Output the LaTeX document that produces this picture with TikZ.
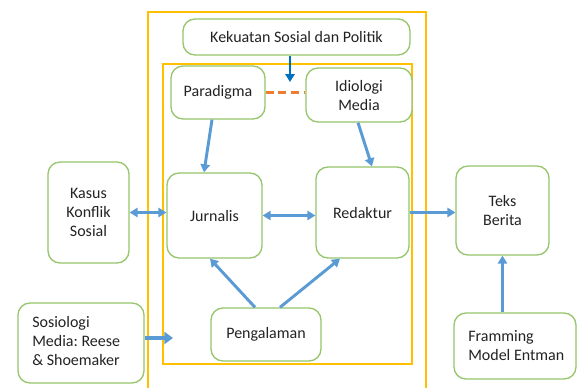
\documentclass[tikz,border=0pt]{standalone}
\usepackage{fontspec}
\setmainfont{Carlito}
\frenchspacing
\usetikzlibrary{arrows.meta,calc}
\definecolor{boxgreen}{RGB}{150,198,108}
\definecolor{arrblue}{RGB}{91,155,213}
\definecolor{darkblue}{RGB}{0,112,192}
\definecolor{dashorange}{RGB}{237,125,49}
\definecolor{frameyellow}{RGB}{255,192,0}
\definecolor{txt}{RGB}{35,35,35}
\begin{document}
\begin{tikzpicture}[x=0.75pt,y=-0.75pt,
  box/.style={draw=boxgreen,line width=1pt,rounded corners=9pt,inner sep=0pt,align=center,
    text=txt,font=\fontsize{12pt}{14.25pt}\selectfont,fill=white},
  lbl/.style={inner sep=0pt,align=left,text=txt,font=\fontsize{12pt}{14.25pt}\selectfont},
  frame/.style={draw=frameyellow,line width=0.9pt},
  arr/.style={draw=arrblue,line width=2.2pt,-{Triangle[length=6pt,width=7pt]}},
  darr/.style={draw=arrblue,line width=2.2pt,{Triangle[length=6pt,width=7pt]}-{Triangle[length=6pt,width=7pt]}},
  thickarr/.style={draw=arrblue,line width=3.6pt,-{Triangle[length=6.5pt,width=9pt]}},
  kekarr/.style={draw=darkblue,line width=2pt,-{Triangle[length=6pt,width=7pt]}},
  dashline/.style={draw=dashorange,line width=2.2pt,dash pattern=on 6pt off 3.5pt}]
\useasboundingbox (0,0) rectangle (579,387);
\fill[white] (0,0) rectangle (579,387);
% frames
\draw[frame] (148,395) -- (148,12) -- (426,12) -- (426,395);
\draw[frame] (163,64) rectangle (412,364);
% boxes
\node[box,minimum width=170.25pt,minimum height=27pt] (kek) at (296.5,37) {Kekuatan Sosial dan Politik};
\node[box,minimum width=70.5pt,minimum height=39.75pt] (par) at (218,92.5) {Paradigma};
\node[box,minimum width=79.5pt,minimum height=40.5pt] (ide) at (359,95) {Idiologi\\Media};
\node[box,minimum width=60.75pt,minimum height=75.75pt] (kas) at (88.5,212.5) {Kasus\\Konflik\\Sosial};
\node[box,minimum width=71.25pt,minimum height=63.75pt] (jur) at (214.5,215.5) {Jurnalis};
\node[box,minimum width=69.75pt,minimum height=68.25pt] (red) at (362.5,212.5) {Redaktur};
\node[box,minimum width=69.75pt,minimum height=66.75pt] (teks) at (502.5,210.5) {Teks\\Berita};
\node[box,minimum width=94.5pt,minimum height=60pt] (soc) at (81,343) {};
\node[lbl,anchor=west] (soctxt) at (32,341) {Sosiologi\\Media: Reese\\\& Shoemaker};
\node[box,minimum width=82.5pt,minimum height=39.75pt] (pen) at (266,334.5) {Pengalaman};
\node[box,minimum width=91.5pt,minimum height=49.5pt] (fra) at (515,346) {};
\node[lbl,anchor=west] (fratxt) at (468,346) {Framming\\Model Entman};
% connectors
\coordinate (kektip) at (290,82);
\draw[kekarr] (kek.south -| kektip) -- (kektip);
\draw[dashline] (par.east) -- (par.east -| ide.west);
\draw[arr] ($(par.south)+(-6,0)$) -- ($(jur.north)+(-10.5,0)$);
\draw[arr] ($(ide.south)+(-1,0)$) -- ($(red.north)+(9.5,0)$);
\draw[darr] (kas.east) -- (kas.east -| jur.west);
\draw[darr] (red.west |- jur.east) -- (jur.east);
\draw[arr] (red.east) -- (red.east -| teks.west);
\draw[arr] ($(pen.north)+(-11,0)$) -- ($(jur.south)+(-4.5,0)$);
\draw[arr] ($(pen.north)+(14,0)$) -- ($(red.south)+(-22.5,0)$);
\coordinate (soctip) at (173,338);
\draw[thickarr] (soc.east |- soctip) -- (soctip);
\draw[arr] (fra.north -| teks.south) -- (teks.south);
\end{tikzpicture}
\end{document}
